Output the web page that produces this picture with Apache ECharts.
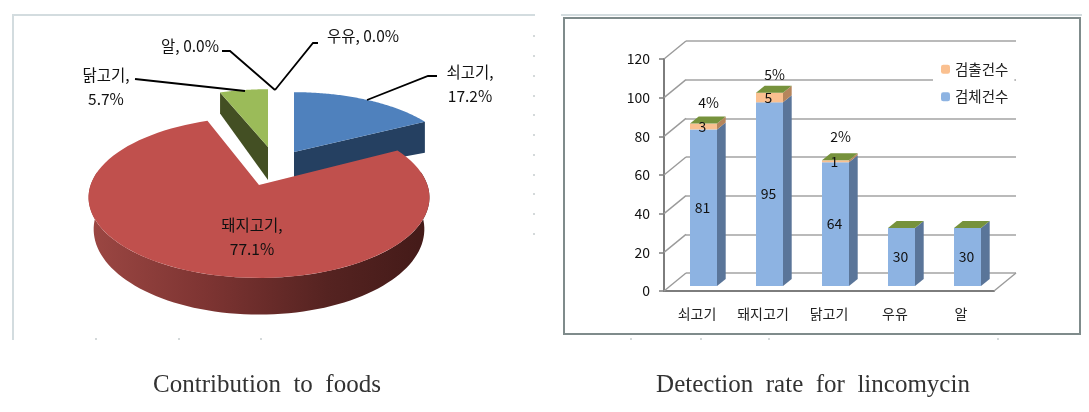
<!DOCTYPE html>
<html>
<head>
<meta charset="utf-8">
<title>lincomycin</title>
<script src="https://cdn.jsdelivr.net/npm/echarts@6/dist/echarts.min.js"></script>
<style>
html, body { margin: 0; padding: 0; background: #fff; }
#chart { width: 1089px; height: 412px; }
</style>
</head>
<body>
<div id="chart"></div>
<script>
// left chart: share per food (%)
const pieNames = ['쇠고기', '돼지고기', '닭고기', '우유', '알']
const pieValues = [17.2, 77.1, 5.7, 0.0, 0.0]

// right chart: counts per food
const categories = ['쇠고기', '돼지고기', '닭고기', '우유', '알']
const testedCounts = [81, 95, 64, 30, 30]
const detectedCounts = [3, 5, 1, 0, 0]
const detectRates = ['4%', '5%', '2%', '', '']
const yTicks = [0, 20, 40, 60, 80, 100, 120]

const KR_FONT = '"Noto Sans CJK KR", "Noto Sans", sans-serif'

// pie look, same order as pieValues
const pieCenter = [259, 185]
const pieR = 168.4
const pieRy = 78.5
const persp = 0.155
const sliceLook = [
  { top: '#4f81bd', side: '#254061', ox: 35, oy: -33, sx: 0.945, sy: 0.88, da: 25, db: 31 },
  { top: '#c0504d', ox: 0, oy: 0, sx: 1, sy: 1 },
  { top: '#9bbb59', side: '#434f23', ox: 9, oy: -38, sx: 0.93, sy: 0.85, da: 33, db: 21 },
  {},
  {}
]
const pieLabels = [
  { x: 470, y: 84, text: (n, v) => `${n},\n${v}%`, line: [[437, 76], [428, 76], [367, 100]] },
  { x: 252, y: 237, text: (n, v) => `${n},\n${v}%`, line: null },
  { x: 106, y: 87, text: (n, v) => `${n},\n${v}%`, line: [[135, 79], [245, 91]] },
  { x: 363, y: 36, text: (n, v) => `${n}, ${v}%`, line: [[318, 43], [313, 43], [275, 90]] },
  { x: 190, y: 46, text: (n, v) => `${n}, ${v}%`, line: [[222, 51], [230, 51], [275, 90]] }
]

// perspective mapping of a disc point, t = clockwise angle from 12 o'clock
function discPoint(t, look, drop, shrink) {
  const u = Math.sin(t)
  const v = Math.cos(t)
  const s = 1 / (1 + persp * v)
  return [
    pieCenter[0] + look.ox + pieR * look.sx * (shrink || 1) * u * s,
    pieCenter[1] + look.oy - pieRy * look.sy * v * s + (drop || 0) * s
  ]
}

function arcPoints(from, to, look, drop, shrink) {
  const pts = []
  const steps = 90
  for (let i = 0; i <= steps; i++) {
    pts.push(discPoint(from + (to - from) * i / steps, look, drop, shrink))
  }
  return pts
}

function renderPieSlice(params, api) {
  const i = params.dataIndex
  const value = api.value(0)
  const total = pieValues.reduce((a, b) => a + b, 0)
  const start = pieValues.slice(0, i).reduce((a, b) => a + b, 0) / total * Math.PI * 2
  const end = start + value / total * Math.PI * 2
  const look = sliceLook[i]
  const children = []

  if (value > 0) {
    const apex = [pieCenter[0] + look.ox, pieCenter[1] + look.oy]
    const z = i === 1 ? 2 : 1
    // red slice shows its rim, the other two show a cut face
    if (i === 1) {
      const a = Math.PI * 80 / 180
      const b = Math.PI * 280 / 180
      children.push({
        type: 'polygon',
        z2: 1,
        shape: { points: arcPoints(a, b, look, 0).concat(arcPoints(b, a, look, 31, 0.97)) },
        style: {
          fill: new echarts.graphic.LinearGradient(0, 0, 1, 0, [
            { offset: 0, color: '#9c4743' },
            { offset: 0.35, color: '#7d3432' },
            { offset: 0.7, color: '#552321' },
            { offset: 1, color: '#431a18' }
          ])
        }
      })
    } else {
      const edge = discPoint(i === 0 ? end : start, look)
      children.push({
        type: 'polygon',
        z2: 0,
        shape: { points: [apex, edge, [edge[0], edge[1] + look.db], [apex[0], apex[1] + look.da]] },
        style: { fill: look.side }
      })
    }
    children.push({
      type: 'polygon',
      z2: z + 1,
      shape: { points: [apex].concat(arcPoints(start, end, look)) },
      style: { fill: look.top }
    })
  }

  const lab = pieLabels[i]
  if (lab.line) {
    children.push({
      type: 'polyline',
      z2: 6,
      shape: { points: lab.line },
      style: { stroke: '#000', lineWidth: 1.8, fill: null }
    })
  }
  children.push({
    type: 'text',
    z2: 7,
    style: {
      x: lab.x,
      y: lab.y,
      text: lab.text(pieNames[i], value.toFixed(1)),
      align: 'center',
      verticalAlign: 'middle',
      lineHeight: 24,
      font: `15.5px ${KR_FONT}`,
      fill: '#111'
    }
  })
  return { type: 'group', children }
}

// bars are pushed back a little from the axis plane
const BAR_SHIFT_X = 6.5
const BAR_SHIFT_Y = -5
const BAR_WIDTH = 27
const DEPTH_X = 8.7
const DEPTH_Y = -7
const rateLift = [21, 18, 24, 0, 0]

function renderBar(front, side, withTop) {
  return function (params, api) {
    const i = api.value(0)
    const base = api.value(1)
    const count = api.value(2)
    const mid = api.coord([i, base])[0] + BAR_SHIFT_X
    const x0 = mid - BAR_WIDTH / 2
    const x1 = mid + BAR_WIDTH / 2
    const y0 = api.coord([i, base])[1] + BAR_SHIFT_Y
    const y1 = api.coord([i, base + count])[1] + BAR_SHIFT_Y
    const children = []
    if (count > 0) {
      children.push({
        type: 'polygon',
        shape: { points: [[x1, y0], [x1, y1], [x1 + DEPTH_X, y1 + DEPTH_Y], [x1 + DEPTH_X, y0 + DEPTH_Y]] },
        style: { fill: side }
      })
      children.push({
        type: 'rect',
        shape: { x: x0, y: y1, width: BAR_WIDTH, height: y0 - y1 },
        style: { fill: front }
      })
      children.push({
        type: 'text',
        z2: 5,
        style: {
          x: mid - 1,
          y: (y0 + y1) / 2,
          text: String(count),
          align: 'center',
          verticalAlign: 'middle',
          font: `14px ${KR_FONT}`,
          fill: '#111'
        }
      })
    }
    if (withTop) {
      children.push({
        type: 'polygon',
        shape: { points: [[x0, y1], [x1, y1], [x1 + DEPTH_X, y1 + DEPTH_Y], [x0 + DEPTH_X, y1 + DEPTH_Y]] },
        style: { fill: '#76923c' }
      })
      if (detectRates[i]) {
        children.push({
          type: 'text',
          z2: 5,
          style: {
            x: mid + 5,
            y: y1 - rateLift[i],
            text: detectRates[i],
            align: 'center',
            verticalAlign: 'middle',
            font: `14px ${KR_FONT}`,
            fill: '#111'
          }
        })
      }
    }
    return { type: 'group', children }
  }
}

// slanted lines from the axis to the back wall
function renderWallLink(params, api) {
  const p = api.coord([0, api.value(0)])
  const x = params.coordSys.x
  const links = [{ type: 'line', shape: { x1: x, y1: p[1], x2: x + 22, y2: p[1] - 18 }, style: { stroke: '#9a9a9a', lineWidth: 1.4 } }]
  if (api.value(0) === 0) {
    const r = x + params.coordSys.width
    links.push({ type: 'line', shape: { x1: r, y1: p[1], x2: r + 22, y2: p[1] - 18 }, style: { stroke: '#9a9a9a', lineWidth: 1.4 } })
  }
  return { type: 'group', children: links }
}

function frameDots(points) {
  return points.map(([x, y]) => ({
    type: 'rect',
    shape: { x, y, width: 2, height: 2 },
    style: { fill: '#d4d9da' }
  }))
}

const chart = echarts.init(document.getElementById('chart'))

const option = {
  animation: false,
  backgroundColor: '#fff',
  title: [
    {
      text: 'Contribution  to  foods',
      left: 262,
      top: 368,
      textAlign: 'center',
      textStyle: { fontFamily: '"Liberation Serif", serif', fontSize: 25, fontWeight: 'normal', color: '#333' }
    },
    {
      text: 'Detection  rate  for  lincomycin',
      left: 808,
      top: 368,
      textAlign: 'center',
      textStyle: { fontFamily: '"Liberation Serif", serif', fontSize: 25, fontWeight: 'normal', color: '#333' }
    }
  ],
  legend: {
    left: 933,
    top: 58,
    orient: 'vertical',
    padding: [4, 6, 4, 8],
    itemWidth: 9,
    itemHeight: 9,
    itemGap: 13,
    backgroundColor: '#fff',
    data: ['검출건수', '검체건수'],
    textStyle: { fontFamily: KR_FONT, fontSize: 14.5, color: '#222' }
  },
  grid: [
    { left: 664, top: 59, width: 330, height: 232 },
    { left: 686, top: 41, width: 330, height: 232 }
  ],
  xAxis: [
    {
      type: 'category',
      gridIndex: 0,
      data: categories,
      axisLine: { lineStyle: { color: '#7d7d7d', width: 2 } },
      axisTick: { length: 5, lineStyle: { color: '#7d7d7d', width: 2 } },
      axisLabel: { interval: 0, hideOverlap: false, margin: 16, fontFamily: KR_FONT, fontSize: 14, color: '#222' }
    },
    {
      type: 'category',
      gridIndex: 1,
      data: categories,
      axisLine: { show: false },
      axisTick: { show: false },
      axisLabel: { show: false }
    }
  ],
  yAxis: [
    {
      type: 'value',
      gridIndex: 0,
      min: 0,
      max: 120,
      interval: 20,
      splitLine: { show: false },
      axisLine: { show: true, lineStyle: { color: '#7d7d7d', width: 2 } },
      axisTick: { show: true, length: 5, lineStyle: { color: '#7d7d7d', width: 1.5 } },
      axisLabel: { margin: 14, fontFamily: KR_FONT, fontSize: 14, color: '#111' }
    },
    {
      type: 'value',
      gridIndex: 1,
      min: 0,
      max: 120,
      interval: 20,
      axisLine: { show: false },
      axisTick: { show: false },
      axisLabel: { show: false },
      splitLine: { show: true, lineStyle: { color: '#a3a3a3', width: 1.6 } }
    }
  ],
  series: [
    {
      type: 'custom',
      name: 'contribution',
      coordinateSystem: 'none',
      silent: true,
      data: pieValues.map(v => [v]),
      renderItem: renderPieSlice
    },
    {
      type: 'custom',
      xAxisIndex: 0,
      yAxisIndex: 0,
      silent: true,
      z: 1,
      clip: false,
      data: yTicks.map(v => [v]),
      encode: { y: 0 },
      renderItem: renderWallLink
    },
    {
      type: 'custom',
      name: '검체건수',
      xAxisIndex: 0,
      yAxisIndex: 0,
      z: 3,
      itemStyle: { color: '#8db3e2' },
      data: testedCounts.map((v, i) => [i, 0, v]),
      encode: { x: 0, y: [1, 2] },
      renderItem: renderBar('#8db3e2', '#5a7599', false)
    },
    {
      type: 'custom',
      name: '검출건수',
      xAxisIndex: 0,
      yAxisIndex: 0,
      z: 3,
      itemStyle: { color: '#fac090' },
      data: detectedCounts.map((v, i) => [i, testedCounts[i], v]),
      encode: { x: 0, y: [1, 2] },
      renderItem: renderBar('#fac090', '#b5855c', true)
    }
  ],
  graphic: [
    { type: 'polyline', z: -1, shape: { points: [[13, 340], [13, 15], [535, 15]] }, style: { stroke: '#d3dcdf', lineWidth: 2, fill: null } },
    { type: 'line', z: -1, shape: { x1: 561, y1: 15, x2: 1082, y2: 15 }, style: { stroke: '#d3dcdf', lineWidth: 2 } },
    { type: 'rect', z: -1, shape: { x: 564, y: 18, width: 516, height: 316 }, style: { stroke: '#7f8b8b', lineWidth: 2, fill: '#fff' } },
    ...frameDots([[95, 338], [178, 338], [260, 338], [630, 338], [700, 338], [768, 338], [997, 338],
      [533, 35], [533, 55], [533, 75], [533, 95], [533, 114], [533, 134], [533, 154], [533, 174], [533, 193], [533, 213], [533, 233]])
  ]
}

chart.setOption(option)
</script>
</body>
</html>
